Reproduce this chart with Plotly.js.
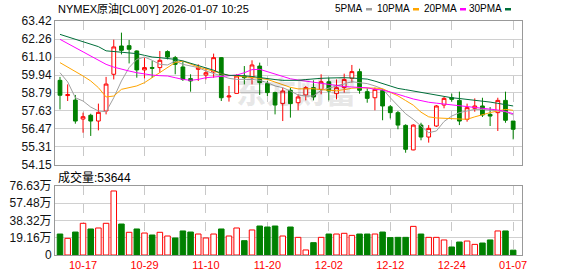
<!DOCTYPE html>
<html><head><meta charset="utf-8">
<script src="https://cdn.plot.ly/plotly-3.0.1.min.js"></script>
<style>html,body{margin:0;padding:0;background:#fff;}#chart{width:578px;height:276px;}</style>
</head><body><div id="chart"></div>
<script>
// ---- data ----
const dates = ['2025-10-14','2025-10-15','2025-10-16','2025-10-17','2025-10-20','2025-10-21','2025-10-22','2025-10-23','2025-10-24','2025-10-27',
'2025-10-28','2025-10-29','2025-10-30','2025-10-31','2025-11-03','2025-11-04','2025-11-05','2025-11-06','2025-11-07','2025-11-10',
'2025-11-11','2025-11-12','2025-11-13','2025-11-14','2025-11-17','2025-11-18','2025-11-19','2025-11-20','2025-11-21','2025-11-24',
'2025-11-25','2025-11-26','2025-11-27','2025-11-28','2025-12-01','2025-12-02','2025-12-03','2025-12-04','2025-12-05','2025-12-08',
'2025-12-09','2025-12-10','2025-12-11','2025-12-12','2025-12-15','2025-12-16','2025-12-17','2025-12-18','2025-12-19','2025-12-22',
'2025-12-23','2025-12-24','2025-12-26','2025-12-29','2025-12-30','2025-12-31','2026-01-02','2026-01-05','2026-01-06','2026-01-07'];

const open  = [59.60,58.62,58.33,57.11,57.35,56.98,57.63,59.99,61.81,61.83,61.49,60.27,60.42,60.42,61.45,61.06,60.46,59.71,60.31,59.94,
60.14,61.06,58.53,58.76,59.88,59.77,60.52,59.39,58.81,58.10,58.96,58.16,58.66,59.13,59.02,59.51,58.74,59.13,59.73,60.16,
58.87,58.48,58.96,57.90,57.52,56.70,55.12,56.72,55.95,56.66,58.01,58.48,58.31,57.09,57.80,57.95,57.41,57.52,58.31,56.98];
const high  = [59.82,59.34,58.66,57.52,57.45,58.10,59.82,62.22,62.67,62.20,61.53,61.06,60.85,61.49,61.53,61.17,60.80,59.99,60.63,60.42,
61.32,61.10,59.24,59.99,60.52,60.89,60.74,59.56,58.87,59.13,59.13,58.70,59.24,59.60,59.99,59.77,59.66,60.03,60.59,60.35,
59.09,59.13,59.02,58.01,57.63,56.77,56.77,56.87,56.72,58.01,58.53,58.74,58.87,58.10,58.44,58.48,57.88,58.48,58.87,56.98];
const low   = [57.73,58.27,56.81,56.23,56.02,56.38,57.41,59.66,61.27,60.69,59.77,59.73,59.75,60.09,60.95,59.99,59.56,58.87,59.56,59.66,
59.77,58.27,58.23,58.76,59.34,59.34,58.66,58.59,57.41,56.98,57.20,57.67,58.31,58.31,58.70,58.31,58.38,58.81,59.45,58.74,
58.16,57.67,57.03,57.15,56.45,54.94,55.10,55.74,55.59,56.60,57.80,58.23,56.72,56.94,57.58,57.24,56.66,56.34,56.87,55.80];
const close = [58.64,58.68,56.98,57.26,56.98,57.54,59.36,61.75,61.53,61.60,60.27,60.42,60.38,60.89,61.10,60.63,59.66,59.56,60.42,60.09,
61.06,58.48,58.59,59.88,59.77,60.59,59.45,58.81,58.01,58.91,58.10,58.53,59.13,58.53,59.51,58.91,59.13,59.66,60.16,58.96,
58.44,59.02,57.95,57.52,56.72,55.16,56.72,55.95,56.51,57.95,58.44,58.38,56.98,57.84,57.95,57.37,57.30,58.31,57.03,56.45];

const ma5  = [60.09,59.50,58.48,58.27,57.88,57.63,57.58,58.48,59.56,60.42,60.95,61.10,60.89,60.63,60.59,60.84,60.63,60.52,60.42,60.20,
60.03,59.88,59.73,59.66,59.66,59.66,59.60,59.45,59.24,59.13,58.91,58.66,58.59,58.59,58.96,59.10,59.24,59.39,59.51,59.45,
59.39,59.24,59.05,58.48,57.95,57.45,57.09,56.66,56.23,56.34,56.95,57.30,57.52,57.63,57.73,57.73,57.67,57.63,57.58,57.37];
const ma10 = [60.74,60.46,60.20,59.88,59.56,59.13,58.53,58.59,59.02,59.13,59.24,59.45,59.77,60.09,60.40,60.75,60.84,60.63,60.46,60.31,
60.20,60.03,59.92,59.88,59.84,59.81,59.73,59.66,59.50,59.30,59.15,59.05,59.05,59.06,59.00,58.96,58.93,59.00,59.09,59.12,
59.13,59.10,59.06,58.85,58.60,58.30,58.00,57.55,57.25,57.18,57.15,57.13,57.10,57.09,57.25,57.40,57.52,57.63,57.73,57.67];
const ma20 = [62.24,61.98,61.70,61.45,61.17,60.90,60.63,60.45,60.31,60.20,60.09,60.01,59.94,59.90,59.88,59.77,59.66,59.60,59.66,59.77,
59.81,59.86,59.88,59.94,60.09,60.29,60.31,60.16,59.99,59.81,59.70,59.62,59.55,59.48,59.41,59.33,59.25,59.20,59.17,59.15,
59.12,59.02,58.98,58.85,58.68,58.55,58.40,58.28,58.19,58.13,58.08,58.03,57.95,57.90,57.86,57.82,57.78,57.69,57.60,57.45];
const ma30 = [62.56,62.41,62.24,62.09,61.92,61.77,61.50,61.45,61.42,61.38,61.32,61.21,61.10,61.06,61.02,60.95,60.85,60.70,60.55,60.42,
60.25,60.05,59.92,59.92,59.90,59.85,59.78,59.70,59.65,59.60,59.58,59.60,59.65,59.70,59.73,59.75,59.77,59.77,59.75,59.73,
59.68,59.55,59.40,59.25,59.08,59.00,58.91,58.80,58.74,58.63,58.55,58.48,58.43,58.38,58.33,58.27,58.20,58.12,58.05,57.95];

// volume in 万 (10,000 lots); direction: 1 = red hollow, -1 = green filled
const volume = [23.3,18.5,25.5,35.2,28.9,30.0,35.2,71.1,34.4,25.2,28.9,24.4,22.2,25.2,21.1,18.9,26.7,25.5,23.3,18.9,
23.3,28.9,21.1,30.0,15.9,27.8,32.2,31.1,32.2,21.1,31.1,19.6,5.6,13.7,19.6,23.3,23.3,24.1,21.8,23.3,
23.3,23.3,25.5,19.3,19.6,19.6,31.8,23.3,19.6,19.6,16.7,8.9,14.4,15.5,11.8,13.3,16.7,26.7,26.7,5.36];
const volDir = [-1,1,-1,1,-1,1,1,1,-1,1,-1,1,-1,1,1,-1,-1,-1,1,1,
1,-1,1,1,-1,1,-1,-1,-1,1,-1,1,1,-1,1,-1,1,1,1,-1,
-1,1,-1,-1,-1,-1,1,-1,1,1,1,-1,-1,1,1,-1,-1,1,-1,-1];

const xTickDates  = ['2025-10-17','2025-10-29','2025-11-10','2025-11-20','2025-12-02','2025-12-12','2025-12-24','2026-01-07'];
const xTickLabels = ['10-17','10-29','11-10','11-20','12-02','12-12','12-24','01-07'];
const priceTicks  = ['54.15','55.31','56.47','57.63','58.79','59.94','61.10','62.26','63.42'];
const volTicks    = [0, 19.16, 38.32, 57.48, 76.63];
const volTickText = ['0','19.16万','38.32万','57.48万','76.63万'];
const titleText = 'NYMEX原油[CL00Y] 2026-01-07 10:25';
const volLabel = '成交量:53644';
const maNames = ['5PMA','10PMA','20PMA','30PMA'];

// ---- layout helpers (pixel -> paper) ----
const W = 578, H = 276, ML = 55, MR = 56, MT = 21, MB = 21;
const PW = W - ML - MR, PH = H - MT - MB;
const px = x => (x - ML) / PW;
const py = y => (H - MB - y) / PH;

const RED = '#ff0000', GREEN = '#008000';
const maColors = ['#a0a0a0', '#ffa500', '#ff00ff', '#006f3a'];
const maData = [ma5, ma10, ma20, ma30];

const traces = [{
  type: 'candlestick', x: dates, open: open, high: high, low: low, close: close,
  xaxis: 'x', yaxis: 'y', whiskerwidth: 0,
  increasing: {line: {color: RED, width: 1}, fillcolor: '#ffffff'},
  decreasing: {line: {color: GREEN, width: 1}, fillcolor: GREEN},
  hoverinfo: 'skip', showlegend: false
}];
maData.forEach((arr, k) => traces.push({
  type: 'scatter', mode: 'lines', x: dates, y: arr, xaxis: 'x', yaxis: 'y',
  line: {color: maColors[k], width: 1}, hoverinfo: 'skip', showlegend: false
}));
traces.push({
  type: 'bar', x: dates, y: volume, xaxis: 'x2', yaxis: 'y2', width: 0.72,
  marker: {color: volDir.map(d => d > 0 ? '#ffffff' : GREEN),
           line: {color: volDir.map(d => d > 0 ? RED : GREEN), width: 1}},
  hoverinfo: 'skip', showlegend: false
});

const tickFont = {family: 'Liberation Sans, Arial, Noto Sans CJK SC', size: 12, color: '#111'};
const xRange = [-0.65, 60.15];
const common = {showline: true, mirror: true, linecolor: '#999', linewidth: 1, zeroline: false, ticks: '', fixedrange: true};

const annotations = [
  {text: titleText, xref: 'paper', yref: 'paper', x: px(56), y: py(9), xanchor: 'left', yanchor: 'middle', showarrow: false,
   font: {family: 'Liberation Sans, Noto Sans CJK SC', size: 11, color: '#000'}},
  {text: volLabel, xref: 'paper', yref: 'paper', x: px(56), y: py(177), xanchor: 'left', yanchor: 'middle', showarrow: false,
   font: {family: 'Liberation Sans, Noto Sans CJK SC', size: 12, color: '#000'}},
  {text: '东方财富', xref: 'paper', yref: 'paper', x: px(296), y: py(90), xanchor: 'center', yanchor: 'middle', showarrow: false,
   font: {family: 'Noto Sans CJK SC', size: 30, weight: 900, color: 'rgba(0,0,0,0.09)'}}
];
const dashX = [366, 413, 460, 505];
const shapes = [];
maNames.forEach((n, k) => {
  annotations.push({text: n, xref: 'paper', yref: 'paper', x: px(dashX[k] - 1), y: py(9), xanchor: 'right', yanchor: 'middle',
    showarrow: false, font: {family: 'Liberation Sans', size: 10, color: '#000'}});
  shapes.push({type: 'rect', xref: 'paper', yref: 'paper', x0: px(dashX[k]), x1: px(dashX[k] + 6), y0: py(10.5), y1: py(8),
    fillcolor: maColors[k], line: {width: 0}});
});

const layout = {
  width: W, height: H, margin: {l: ML, r: MR, t: MT, b: MB, pad: 0},
  paper_bgcolor: '#fff', plot_bgcolor: '#fff', showlegend: false, hovermode: false,
  xaxis: Object.assign({}, common, {type: 'category', anchor: 'y', domain: [0, 1], range: xRange,
    tickvals: xTickDates, ticktext: xTickLabels, showticklabels: false,
    showgrid: true, gridcolor: '#c8c8c8', griddash: 'dash', gridwidth: 1, rangeslider: {visible: false}}),
  xaxis2: Object.assign({}, common, {type: 'category', anchor: 'y2', domain: [0, 1], range: xRange,
    tickvals: xTickDates, ticktext: xTickLabels, showticklabels: true,
    tickfont: {family: 'Liberation Sans', size: 11, color: RED},
    showgrid: true, gridcolor: '#c8c8c8', griddash: 'dash', gridwidth: 1}),
  yaxis: Object.assign({}, common, {anchor: 'x', domain: [py(165), 1], range: [54.15, 63.42],
    tickvals: priceTicks.map(Number), ticktext: priceTicks, tickfont: tickFont,
    showgrid: true, gridcolor: '#d0d0d0', gridwidth: 1}),
  yaxis2: Object.assign({}, common, {anchor: 'x2', domain: [0, py(186)], range: [0, 76.63],
    tickvals: volTicks, ticktext: volTickText, tickfont: tickFont,
    showgrid: true, gridcolor: '#d0d0d0', gridwidth: 1}),
  annotations: annotations, shapes: shapes
};

Plotly.newPlot('chart', traces, layout, {staticPlot: true, displayModeBar: false});
</script></body></html>
